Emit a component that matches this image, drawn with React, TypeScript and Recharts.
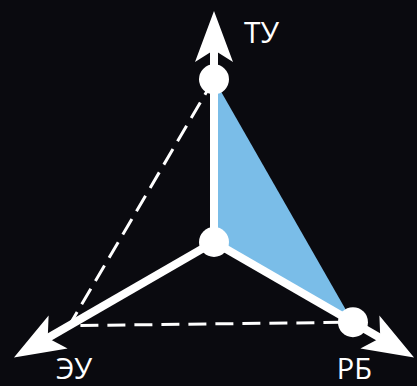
import React from 'react';
import { RadarChart, Radar, PolarAngleAxis, PolarRadiusAxis } from 'recharts';

// ---- data ----
const categories = ['ТУ', 'РБ', 'ЭУ'];
const profileValues = [72, 71, 74]; // dashed outline (ТУ → ЭУ → РБ)
const areaValues = [72, 71, 0]; // filled sector (centre, ТУ, РБ)
const radiusDomain: [number, number] = [0, 100];

const data = categories.map((axis, i) => ({
  axis,
  profile: profileValues[i],
  area: areaValues[i],
}));

// ---- layout / style ----
const W = 417;
const H = 386;
const CX = 214;
const CY = 242;
const OUTER = 226;
const TIP = 231;
const BG = '#0a0a0f';
const BLUE = '#7abde8';
const WHITE = '#ffffff';
const FONT = '"Open Sans", "Noto Sans", sans-serif';

const RAD = Math.PI / 180;

const AxisTick = (props: any) => {
  const { payload } = props;
  const angle = payload.coordinate as number;
  const dx = Math.cos(-angle * RAD);
  const dy = Math.sin(-angle * RAD);
  const px = -dy;
  const py = dx;
  const tipX = CX + dx * TIP;
  const tipY = CY + dy * TIP;
  const L = 51;
  const Wd = 19;
  const N = 39;
  const bx = tipX - dx * L;
  const by = tipY - dy * L;
  const nx = tipX - dx * N;
  const ny = tipY - dy * N;
  const pts = [
    `${tipX},${tipY}`,
    `${bx + px * Wd},${by + py * Wd}`,
    `${nx},${ny}`,
    `${bx - px * Wd},${by - py * Wd}`,
  ].join(' ');
  let lx = tipX;
  let ly = tipY;
  let anchor: 'start' | 'end' = 'start';
  if (angle > 45) {
    lx = tipX + 30;
    ly = tipY + 32;
  } else if (dx > 0) {
    lx = tipX - 42;
    ly = tipY + 21;
    anchor = 'end';
  } else {
    lx = tipX + 42;
    ly = tipY + 21;
  }
  return (
    <g>
      <line x1={CX} y1={CY} x2={nx + dx * 2} y2={ny + dy * 2} stroke={WHITE} strokeWidth={8} />
      <polygon points={pts} fill={WHITE} />
      <text x={lx} y={ly} textAnchor={anchor} fill={WHITE} fontSize={angle > 45 ? 30 : 29} fontFamily={FONT}>
        {payload.value}
      </text>
    </g>
  );
};

const DashedShape = (props: any) => {
  const p = props.points || [];
  if (p.length < 3) return null;
  const d = `M${p[0].x},${p[0].y} L${p[2].x},${p[2].y} L${p[1].x},${p[1].y}`;
  return <path d={d} fill="none" stroke={WHITE} strokeWidth={3} strokeDasharray="18 9" />;
};

const WhiteDot = (props: any) => {
  const { cx, cy, index } = props;
  return <circle key={`d-${index}`} cx={cx} cy={cy} r={15} fill={WHITE} />;
};

export default function App() {
  return (
    <div style={{ position: 'absolute', left: 0, top: 0, width: W, height: H, background: BG, overflow: 'hidden' }}>
      <RadarChart width={W} height={H} data={data} cx={CX} cy={CY} outerRadius={OUTER} margin={{ top: 0, right: 0, bottom: 0, left: 0 }}>
        <PolarRadiusAxis domain={radiusDomain} tick={false} axisLine={false} />
        <Radar dataKey="area" fill={BLUE} fillOpacity={1} stroke="none" isAnimationActive={false} dot={false} />
        <Radar dataKey="profile" fill="none" stroke={WHITE} isAnimationActive={false} shape={DashedShape} dot={false} />
        <PolarAngleAxis dataKey="axis" tick={AxisTick} axisLine={false} tickLine={false} />
        <Radar dataKey="area" fill="none" stroke="none" fillOpacity={0} isAnimationActive={false} dot={WhiteDot} legendType="none" />
      </RadarChart>
    </div>
  );
}
